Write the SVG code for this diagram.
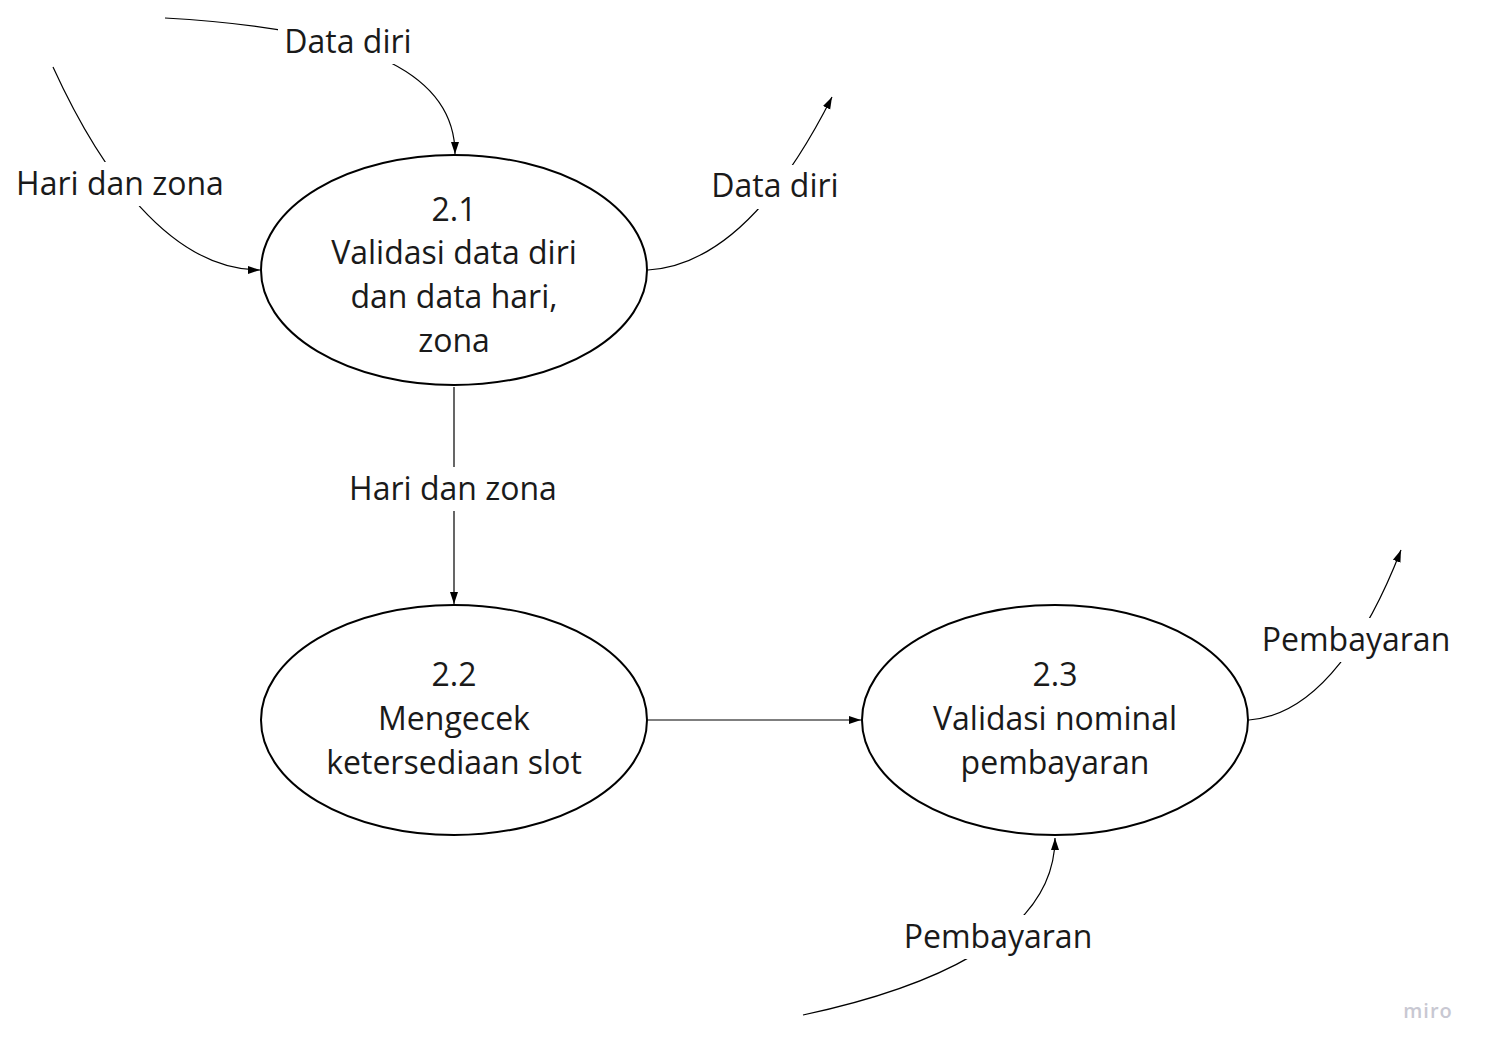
<svg xmlns="http://www.w3.org/2000/svg" width="1485" height="1051" viewBox="0 0 1485 1051">
<defs>
<marker id="arr" viewBox="0 0 12 10" refX="12" refY="5" markerWidth="12" markerHeight="10" markerUnits="userSpaceOnUse" orient="auto">
<path d="M0,1 L12,5 L0,9 Z" fill="#000"/>
</marker>
<style>
text{font-family:"Open Sans","Noto Sans",sans-serif;font-size:32px;fill:#1a1a1a;text-anchor:middle}
.node ellipse{fill:#fff;stroke:#000;stroke-width:2}
.conn path{fill:none;stroke:#000;stroke-width:1.2;marker-end:url(#arr)}
.lbl rect{fill:#fff}
.wm{font-size:20px;font-weight:600;fill:#c8c8d2;letter-spacing:1px}
</style>
</defs>
<rect width="1485" height="1051" fill="#fff"/>
<g id="connectors" class="conn">
<path d="M165,18 C380,30 455,80 455,154"/>
<path d="M53,67 C100,170 170,270 260,270"/>
<path d="M648,270 C730,265 790,180 832,97"/>
<path d="M454,387 L454,604"/>
<path d="M648,720 L861,720"/>
<path d="M1249,720 C1320,715 1370,630 1401,550"/>
<path d="M803,1015 C920,990 1055,940 1055,838"/>
</g>
<g id="labels" class="lbl">
<rect x="278" y="22" width="140" height="42"/><text x="348" y="53">Data diri</text>
<rect x="10" y="162" width="222" height="44"/><text x="120" y="195">Hari dan zona</text>
<rect x="706" y="165" width="138" height="44"/><text x="775" y="197">Data diri</text>
<rect x="343" y="467" width="220" height="44"/><text x="453" y="500">Hari dan zona</text>
<rect x="1258" y="618" width="196" height="44"/><text x="1356" y="651">Pembayaran</text>
<rect x="900" y="915" width="196" height="44"/><text x="998" y="948">Pembayaran</text>
</g>
<g id="n21" class="node">
<ellipse cx="454" cy="270" rx="193" ry="115"/>
<text x="454" y="221">2.1</text>
<text x="454" y="264">Validasi data diri</text>
<text x="454" y="308">dan data hari,</text>
<text x="454" y="352">zona</text>
</g>
<g id="n22" class="node">
<ellipse cx="454" cy="720" rx="193" ry="115"/>
<text x="454" y="686">2.2</text>
<text x="454" y="730">Mengecek</text>
<text x="454" y="774">ketersediaan slot</text>
</g>
<g id="n23" class="node">
<ellipse cx="1055" cy="720" rx="193" ry="115"/>
<text x="1055" y="686">2.3</text>
<text x="1055" y="730">Validasi nominal</text>
<text x="1055" y="774">pembayaran</text>
</g>
<text class="wm" x="1428" y="1018">miro</text>
</svg>
